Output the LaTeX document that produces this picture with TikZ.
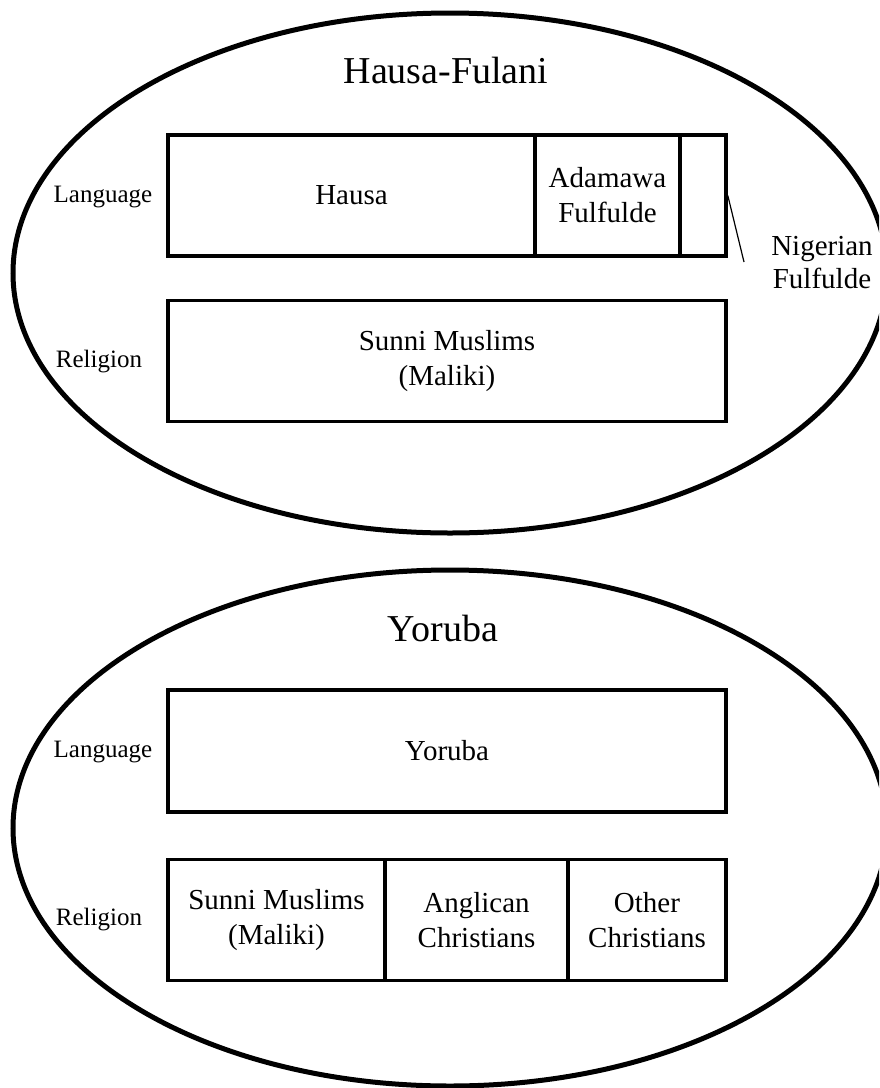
\documentclass[tikz,border=0pt]{standalone}
\usepackage{fontspec}
\setmainfont{Liberation Serif}
\begin{document}
\begin{tikzpicture}[x=1pt,y=-1pt,
  oval/.style={draw=black,line width=5pt},
  cell/.style={draw=black,line width=3.6pt,rectangle,inner sep=0pt,align=center,
    font=\fontsize{29}{35}\selectfont},
  sidelabel/.style={inner sep=0pt,font=\fontsize{25}{30}\selectfont},
  title/.style={inner sep=0pt,font=\fontsize{38}{44}\selectfont},
  leader/.style={draw=black,line width=1.2pt}]
\useasboundingbox (0,0) rectangle (879,1088);
\clip (0,0) rectangle (879,1088);
% ellipses
\draw[oval] (450,273) ellipse [x radius=437, y radius=260];
\draw[oval] (450,828) ellipse [x radius=437, y radius=258];
% titles
\node[title] (t1) at (446,70) {Hausa-Fulani};
\node[title] (t2) at (443,628) {Yoruba};
% top group
\node[sidelabel] (l1) at (103,197) {Language};
\node[sidelabel] (r1) at (99,362) {Religion};
\node[cell,minimum width=367,minimum height=121] (hausa) at (351.5,195.5) {Hausa};
\node[cell,minimum width=145,minimum height=121] (adam) at (607.5,195.5) {Adamawa\\Fulfulde};
\node[cell,minimum width=46,minimum height=121] (nig) at (703,195.5) {};
\node[cell,minimum width=558,minimum height=121] (sunni1) at (447,361) {Sunni Muslims\\(Maliki)};
\node[inner sep=0pt,align=center,font=\fontsize{29}{33}\selectfont] (nigtext) at (822,263) {Nigerian\\Fulfulde};
\coordinate (nigend) at (744,262);
\draw[leader] (nig.east) -- (nigend);
% bottom group
\node[sidelabel] (l2) at (103,752) {Language};
\node[sidelabel] (r2) at (99,920) {Religion};
\node[cell,minimum width=558,minimum height=122] (yor) at (447,751) {Yoruba};
\node[cell,minimum width=217,minimum height=121] (sunni2) at (276.5,920) {Sunni Muslims\\(Maliki)};
\node[cell,minimum width=183,minimum height=121] (angl) at (476.5,920) {Anglican\\Christians};
\node[cell,minimum width=158,minimum height=121] (other) at (647,920) {Other\\Christians};
\end{tikzpicture}
\end{document}
